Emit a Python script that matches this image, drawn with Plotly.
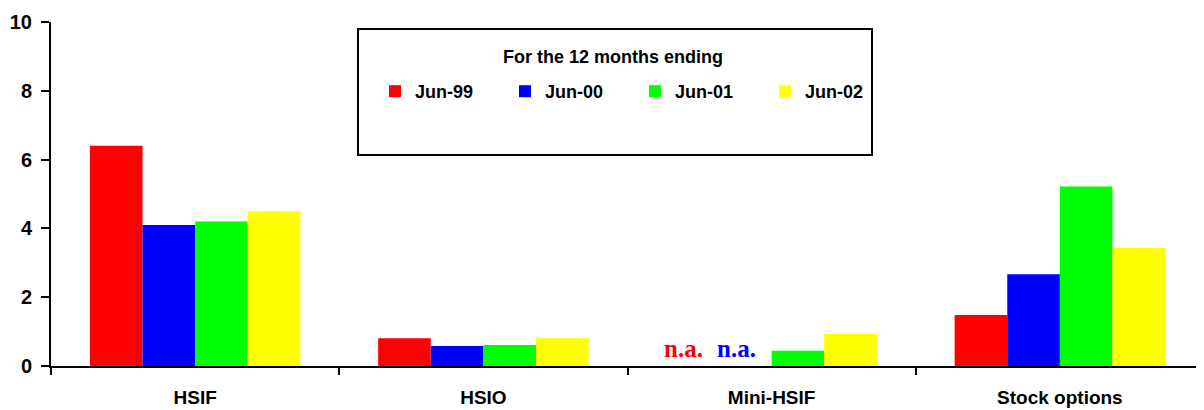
import plotly.graph_objects as go

categories = ["HSIF", "HSIO", "Mini-HSIF", "Stock options"]
series_names = ["Jun-99", "Jun-00", "Jun-01", "Jun-02"]
jun99 = [6.4, 0.81, None, 1.48]
jun00 = [4.1, 0.58, None, 2.67]
jun01 = [4.2, 0.61, 0.44, 5.22]
jun02 = [4.5, 0.81, 0.93, 3.43]
colors = ["#FF0000", "#0000FF", "#00FF00", "#FFFF00"]
na_colors = ["#FF0000", "#0000FF"]
y_ticks = [0, 2, 4, 6, 8, 10]
legend_title = "For the 12 months ending"

series_values = [jun99, jun00, jun01, jun02]

FONT = "Liberation Sans, Arial, sans-serif"

# The page body has an 8px margin, so the figure is drawn 8px in and down.
OFF = 8
PL, PT, PR, PB = 51, 22, 1204, 366  # plot area in window pixels

fig = go.Figure()
for name, vals, col in zip(series_names, series_values, colors):
    fig.add_trace(go.Bar(
        name=name, x=categories, y=vals,
        marker=dict(color=col, line=dict(width=0)),
    ))

plot_w = PR - PL
plot_h = PB - PT
cat_w = plot_w / len(categories)
bargap = 0.27
bar_w = cat_w * (1 - bargap) / len(series_names)

# "n.a." labels for missing values
for si, vals in enumerate(series_values):
    for ci, v in enumerate(vals):
        if v is None:
            fig.add_annotation(
                x=categories[ci], y=0, xref="x", yref="y",
                text="<b>n.a.</b>", showarrow=False,
                xshift=(si - 1.5) * bar_w - 9, yshift=2,
                yanchor="bottom",
                font=dict(family="Liberation Serif, Times New Roman, serif",
                          size=25, color=na_colors[si % len(na_colors)]),
            )

def px_x(x):
    return (x - PL) / plot_w

def px_y(y):
    return (PB - y) / plot_h

# legend frame and title
fig.add_shape(type="rect", xref="paper", yref="paper",
              x0=px_x(358), x1=px_x(872), y0=px_y(155), y1=px_y(29),
              line=dict(color="#000000", width=2), fillcolor="rgba(0,0,0,0)",
              layer="above")
fig.add_annotation(
    xref="paper", yref="paper", x=px_x(613), y=px_y(57),
    text=legend_title, showarrow=False, xanchor="center", yanchor="middle",
    font=dict(family=FONT, size=18, weight=700, color="#000000"),
)

fig.update_layout(
    width=1204 - OFF, height=410 - OFF,
    margin=dict(l=PL - OFF, r=0, t=PT - OFF, b=410 - PB),
    paper_bgcolor="white", plot_bgcolor="white",
    barmode="group", bargap=bargap, bargroupgap=0,
    font=dict(family=FONT, size=18, color="#000000", weight=700),
    showlegend=True,
    legend=dict(
        orientation="h",
        x=px_x(375), xanchor="left",
        y=px_y(73), yanchor="top",
        entrywidth=85, entrywidthmode="pixels",
        bgcolor="rgba(0,0,0,0)", borderwidth=0,
        font=dict(family=FONT, size=18, weight=700),
        traceorder="normal",
    ),
    xaxis=dict(
        showline=True, linecolor="#000000", linewidth=2,
        ticks="outside", tickson="boundaries", ticklen=7, tickwidth=2,
        tickcolor="#000000", showgrid=False, ticklabelstandoff=13,
        tickfont=dict(family=FONT, size=19, weight=700),
        automargin=False,
    ),
    yaxis=dict(
        range=[0, 10], tickvals=y_ticks,
        showline=True, linecolor="#000000", linewidth=2,
        ticks="outside", ticklen=8, tickwidth=2, tickcolor="#000000",
        showgrid=False, zeroline=False, ticklabelstandoff=5,
        tickfont=dict(family=FONT, size=20, weight=700),
        automargin=False,
    ),
)

fig.write_html("out.html")
